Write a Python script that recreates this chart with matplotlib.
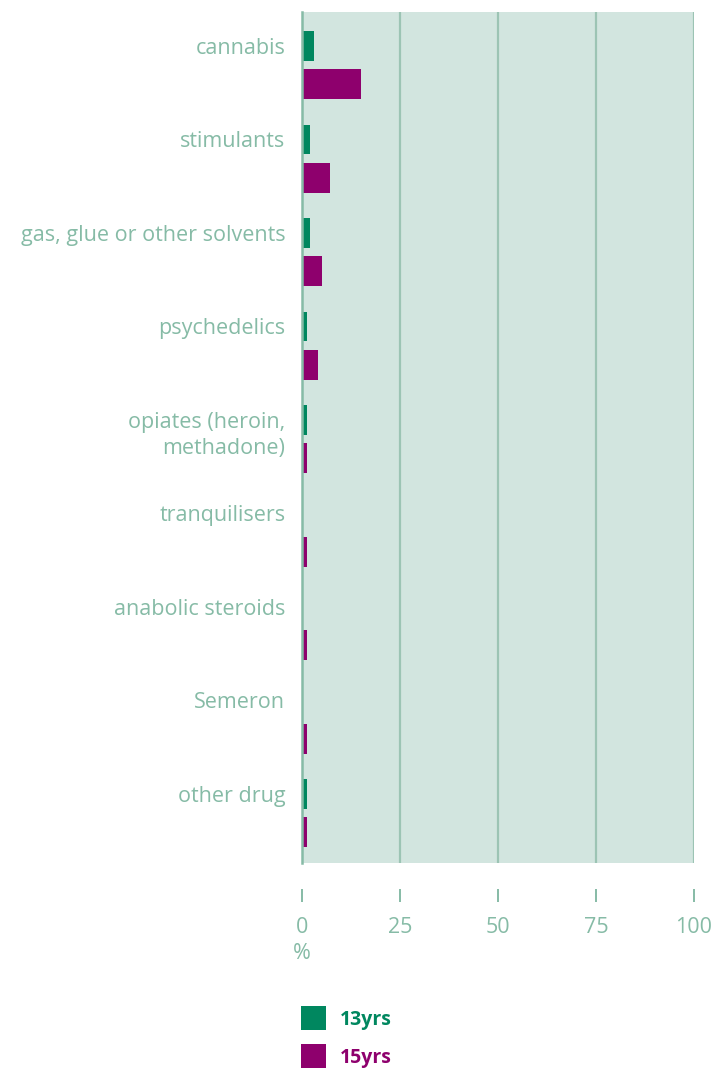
import numpy as np
import matplotlib
matplotlib.use('Agg')
import matplotlib.pyplot as plt

drugs = ['cannabis', 'stimulants', 'gas, glue or other solvents', 'psychedelics',
         'opiates (heroin,\nmethadone)', 'tranquilisers', 'anabolic steroids',
         'Semeron', 'other drug']
yrs13 = [3, 2, 2, 1, 1, 0, 0, 0, 1]
yrs15 = [15, 7, 5, 4, 1, 1, 1, 1, 1]
xticks = [0, 25, 50, 75, 100]

green = '#00875f'
purple = '#8e006d'
txt = '#86bba6'
bg = '#d2e5df'
grid = '#9cc4b4'
fs = 15.5

plt.rcParams['font.family'] = ['Open Sans', 'DejaVu Sans']

fig = plt.figure(figsize=(7.16, 10.68), dpi=100)
ax = fig.add_axes([302/716, 1 - 863/1068, 392/716, 851/1068])
ax.set_facecolor(bg)

# spine position first, it resets the ticks
ax.spines['bottom'].set_position(('outward', 18.7))
ax.spines['bottom'].set_visible(False)
ax.spines['top'].set_visible(False)
ax.spines['right'].set_visible(False)
ax.spines['left'].set_color(txt)
ax.spines['left'].set_linewidth(1.8)

y = np.arange(len(drugs))
h = 0.32
ax.barh(y, yrs13, height=h, color=green, label='13yrs', left=0.15)
ax.barh(y + 0.41, yrs15, height=h, color=purple, label='15yrs', left=0.15)

ax.set_xlim(0, 100)
ax.set_ylim(8.738, -0.364)
ax.set_yticks(y)
ax.set_yticklabels([])
ax.tick_params(axis='y', length=0)

# category labels: first line centred on the 13yrs bar
for yi, name in zip(y, drugs):
    ax.annotate(name, xy=(0, yi), xycoords=('axes fraction', 'data'),
                xytext=(-12, 6), textcoords='offset points',
                ha='right', va='top', fontsize=fs, color=txt,
                multialignment='right', linespacing=1.33)

for v in xticks[1:]:
    ax.axvline(v, color=grid, lw=1.6, zorder=0.5)

ax.set_xticks(xticks)
ax.set_xticklabels([str(v) for v in xticks])
ax.tick_params(axis='x', length=9.4, width=1.4, color=txt, labelcolor=txt,
               labelsize=fs, pad=10.5)

ax.annotate('%', xy=(0, 0), xycoords='axes fraction', xytext=(0, -65),
            textcoords='offset points', fontsize=fs, color=txt,
            ha='center', va='center')

leg = ax.legend(loc='upper left', bbox_to_anchor=(301/716, 1 - 1006/1068),
                bbox_transform=fig.transFigure, frameon=False, borderpad=0,
                handlelength=1.3, handleheight=1.56, labelspacing=0.7,
                handletextpad=0.7, borderaxespad=0,
                prop={'size': 14, 'weight': 'bold'})
for t, c in zip(leg.get_texts(), [green, purple]):
    t.set_color(c)

fig.savefig('out.png', dpi=100)
